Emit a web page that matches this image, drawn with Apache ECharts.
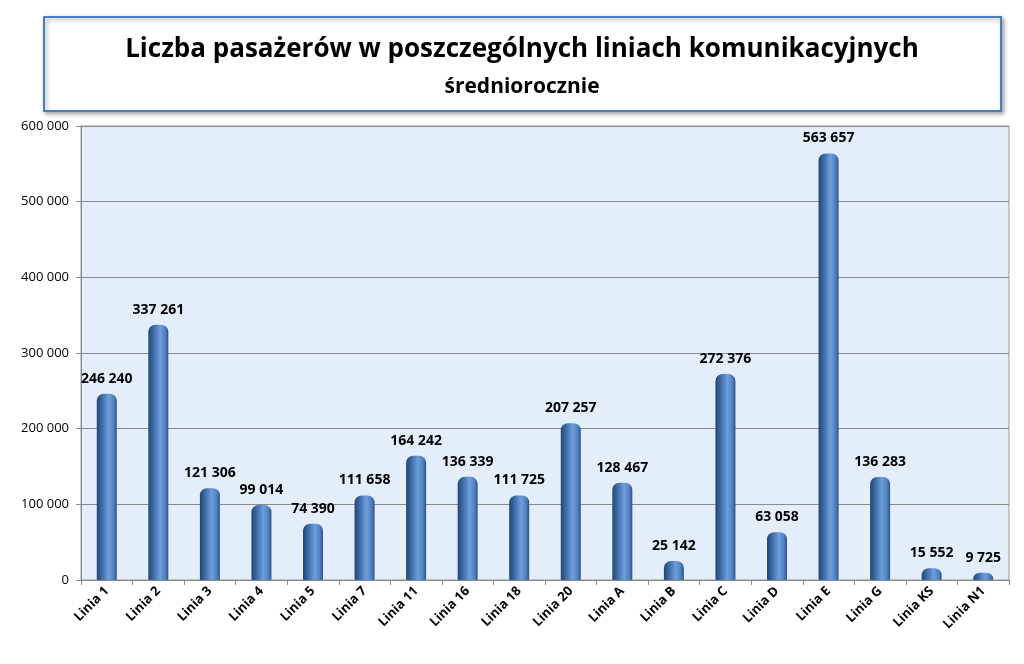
<!DOCTYPE html>
<html><head><meta charset="utf-8">
<script src="https://cdn.jsdelivr.net/npm/echarts@6/dist/echarts.min.js"></script>
<style>html,body{margin:0;padding:0;background:#fff}#c{width:1024px;height:664px}</style>
</head><body><div id="c"></div>
<script>
const categories = ['Linia 1','Linia 2','Linia 3','Linia 4','Linia 5','Linia 7','Linia 11','Linia 16','Linia 18','Linia 20','Linia A','Linia B','Linia C','Linia D','Linia E','Linia G','Linia KS','Linia N1'];
const passengers = [246240,337261,121306,99014,74390,111658,164242,136339,111725,207257,128467,25142,272376,63058,563657,136283,15552,9725];
const titleText = 'Liczba pasażerów w poszczególnych liniach komunikacyjnych';
const subtitleText = 'średniorocznie';

function fmt(v){ return String(Math.round(v)).replace(/\B(?=(\d{3})+(?!\d))/g,' '); }
const F = '"Open Sans", "Noto Sans", sans-serif';
const chart = echarts.init(document.getElementById('c'));
chart.setOption({
  animation:false,
  backgroundColor:'#fff',
  graphic:[
    {type:'rect', shape:{x:44,y:17,width:957,height:94}, style:{fill:'#fff',stroke:'#4a7ebb',lineWidth:2, shadowBlur:4, shadowColor:'rgba(0,0,0,0.35)', shadowOffsetX:2, shadowOffsetY:2}, z:0},
    {type:'text', x:522, y:50, style:{text:titleText, font:'bold 26px '+F, fill:'#000', align:'center', verticalAlign:'middle'}, z:1},
    {type:'text', x:522, y:87, style:{text:subtitleText, font:'bold 21px '+F, fill:'#000', align:'center', verticalAlign:'middle'}, z:1}
  ],
  grid:{left:81, right:15, top:126, bottom:84, show:true, backgroundColor:'#e4eefa', borderColor:'#9a9a9a', borderWidth:1},
  xAxis:{type:'category', data:categories,
    axisLine:{lineStyle:{color:'#888'}},
    axisTick:{show:true, lineStyle:{color:'#888'}, length:5},
    axisLabel:{rotate:45, fontSize:13, fontWeight:'bold', color:'#000', fontFamily:F, margin:9, interval:0}},
  yAxis:{type:'value', min:0, max:600000, interval:100000,
    axisLine:{show:true, lineStyle:{color:'#888'}},
    axisTick:{show:true, lineStyle:{color:'#888'}, length:5},
    splitLine:{lineStyle:{color:'#8c8c8c', width:1}},
    axisLabel:{formatter:fmt, fontSize:13, color:'#000', fontFamily:F, margin:12}},
  series:[{type:'bar', data:passengers, barWidth:20,
    itemStyle:{borderRadius:[7,7,1,1],
      color:new echarts.graphic.LinearGradient(0,0,1,0,[
        {offset:0,color:'#23456f'},{offset:0.25,color:'#3d6aa6'},{offset:0.6,color:'#6e9fdc'},{offset:0.85,color:'#4f7fbf'},{offset:1,color:'#2b5287'}])},
    label:{show:true, position:'top', formatter:p=>fmt(p.value), fontSize:14, fontWeight:'bold', color:'#000', fontFamily:F, distance:8}}]
});
</script></body></html>
